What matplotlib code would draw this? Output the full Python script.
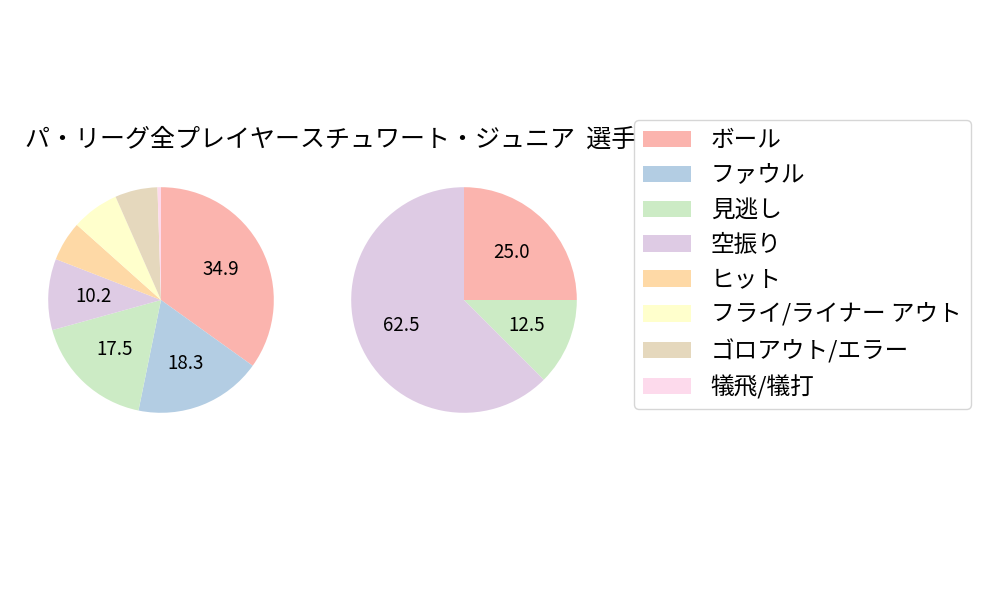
import matplotlib
matplotlib.use("Agg")
import matplotlib.pyplot as plt

plt.rcParams['font.family'] = ['Noto Sans CJK JP', 'DejaVu Sans']

# pitch result categories
labels = ['ボール', 'ファウル', '見逃し', '空振り', 'ヒット',
          'フライ/ライナー アウト', 'ゴロアウト/エラー', '犠飛/犠打']
# left pie: all Pa League players (percent)
league_vals = [34.9, 18.3, 17.5, 10.2, 5.7, 6.8, 6.1, 0.5]
# right pie: Stewart Jr. (percent)
player_vals = [25.0, 0, 12.5, 62.5, 0, 0, 0, 0]

title = 'パ・リーグ全プレイヤースチュワート・ジュニア  選手'

colors = plt.cm.Pastel1.colors[:len(labels)]


def pct_label(p):
    # only label the bigger slices
    return '%.1f' % p if p >= 10 else ''


fig = plt.figure(figsize=(10, 6), dpi=100)

ax1 = fig.add_axes([0.020, 0.265, 0.282, 0.47])
ax2 = fig.add_axes([0.323, 0.265, 0.282, 0.47])

wedges, _, _ = ax1.pie(league_vals, colors=colors, startangle=90, counterclock=False,
                       autopct=pct_label, textprops={'fontsize': 13.5})
ax2.pie(player_vals, colors=colors, startangle=90, counterclock=False,
        autopct=pct_label, textprops={'fontsize': 13.5})
for ax in (ax1, ax2):
    ax.set_aspect('equal')

fig.text(0.025, 0.767, title, fontsize=18, ha='left', va='center')

fig.legend(wedges, labels, loc='upper left', bbox_to_anchor=(0.634, 0.8),
           borderaxespad=0, fontsize=17, handlelength=2.0, handleheight=0.7,
           labelspacing=0.5, handletextpad=0.85)

fig.savefig('out.png')
